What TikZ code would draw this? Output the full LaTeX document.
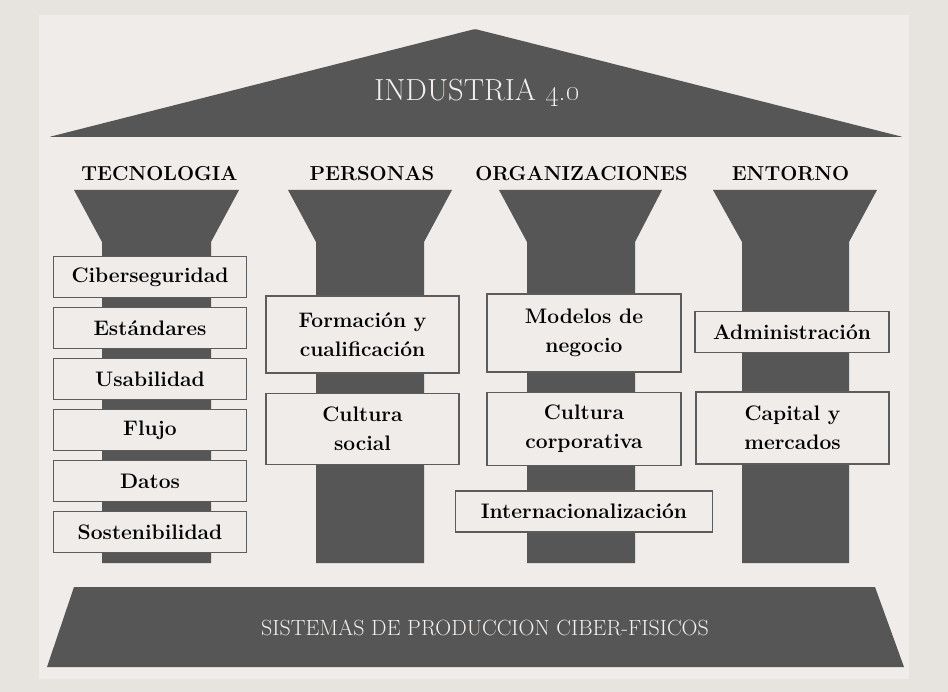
\documentclass[tikz,border=0pt]{standalone}
\usepackage{tikz}
\usetikzlibrary{positioning}
\definecolor{outer}{HTML}{E7E4E0}
\definecolor{panel}{HTML}{EFECE9}
\definecolor{pillar}{HTML}{565656}
\definecolor{frame}{HTML}{5C5C5C}
\definecolor{chalk}{HTML}{F2EFEC}

\begin{document}
\begin{tikzpicture}[
		x=1pt, y=-1pt,
		thick,
		BoxCfg/.style={
			draw=frame, line width=1.4pt, fill=panel,
			inner sep=0pt, align=center,
			minimum width=193pt, minimum height=41pt,
			font=\fontsize{21}{29}\selectfont\bfseries
		},
		HeadCfg/.style={
			anchor=base, inner sep=0pt,
			font=\fontsize{20.2}{24}\selectfont\bfseries
		},
		PillarCfg/.style={fill=pillar}
		]
		
		\useasboundingbox (0,0) rectangle (948,692);
		\fill[outer] (0,0) rectangle (948,692);
		\fill[panel] (39,15) rectangle (909,679);
		
		% roof and base
		\fill[PillarCfg, rounded corners=2pt] (49,137) -- (475,29) -- (903,137) -- cycle;
		\fill[PillarCfg] (74,587) -- (875,587) -- (904,667) -- (47,667) -- cycle;
		
		% pillars
		\fill[PillarCfg] (74,190) -- (239,190) -- (211,242) -- (211,563) -- (102,563) -- (102,242) -- cycle;
		\fill[PillarCfg] (288,190) -- (452,190) -- (424,242) -- (424,563) -- (316,563) -- (316,242) -- cycle;
		\fill[PillarCfg] (499,190) -- (662,190) -- (635,242) -- (635,563) -- (527,563) -- (527,242) -- cycle;
		\fill[PillarCfg] (713,190) -- (877,190) -- (849,242) -- (849,563) -- (742,563) -- (742,242) -- cycle;
		
		\node [anchor=base, text=chalk, font=\fontsize{30.5}{34}\selectfont] (Roof) at (477,101)
		{INDUSTRIA \oldstylenums{4.0}};
		\node [anchor=base, text=chalk, font=\fontsize{22}{26}\selectfont] (Base) at (485,635)
		{SISTEMAS DE PRODUCCION CIBER-FISICOS};
		
		% headings
		\node [HeadCfg] (TEC) at (159.5,181) {TECNOLOGIA};
		\node [HeadCfg] (PER) at (372,181) {PERSONAS};
		\node [HeadCfg] (ORG) at (581.5,181) {ORGANIZACIONES};
		\node [HeadCfg] (ENT) at (790.5,181) {ENTORNO};
		
		% tecnologia
		\node [BoxCfg] (Ciber) at (150,277) {Ciberseguridad};
		\node [BoxCfg, below=8.6pt of Ciber] (Estand) {Estándares};
		\node [BoxCfg, below=8.6pt of Estand] (Usab) {Usabilidad};
		\node [BoxCfg, below=8.6pt of Usab] (Flujo) {Flujo};
		\node [BoxCfg, below=8.6pt of Flujo] (Datos) {Datos};
		\node [BoxCfg, below=8.6pt of Datos] (Sosten) {Sostenibilidad};
		
		% personas
		\node [BoxCfg, minimum height=77pt] (Formac) at (362.5,334.5) {Formación y\\cualificación};
		\node [BoxCfg, minimum height=71pt, below=19pt of Formac] (CultSoc) {Cultura\\social};
		
		% organizaciones
		\node [BoxCfg, minimum width=194pt, minimum height=78pt] (Modelos) at (584,333) {Modelos de\\negocio};
		\node [BoxCfg, minimum width=194pt, minimum height=73pt, below=19pt of Modelos] (CultCorp) {Cultura\\corporativa};
		\node [BoxCfg, minimum width=257pt, below=24pt of CultCorp] (Intern) {Internacionalización};
		
		% entorno
		\node [BoxCfg, minimum width=194pt] (Admin) at (792,332) {Administración};
		\node [BoxCfg, minimum height=72pt] (Capital) at (792.5,428) {Capital y\\mercados};
		
		\end{tikzpicture}
\end{document}
